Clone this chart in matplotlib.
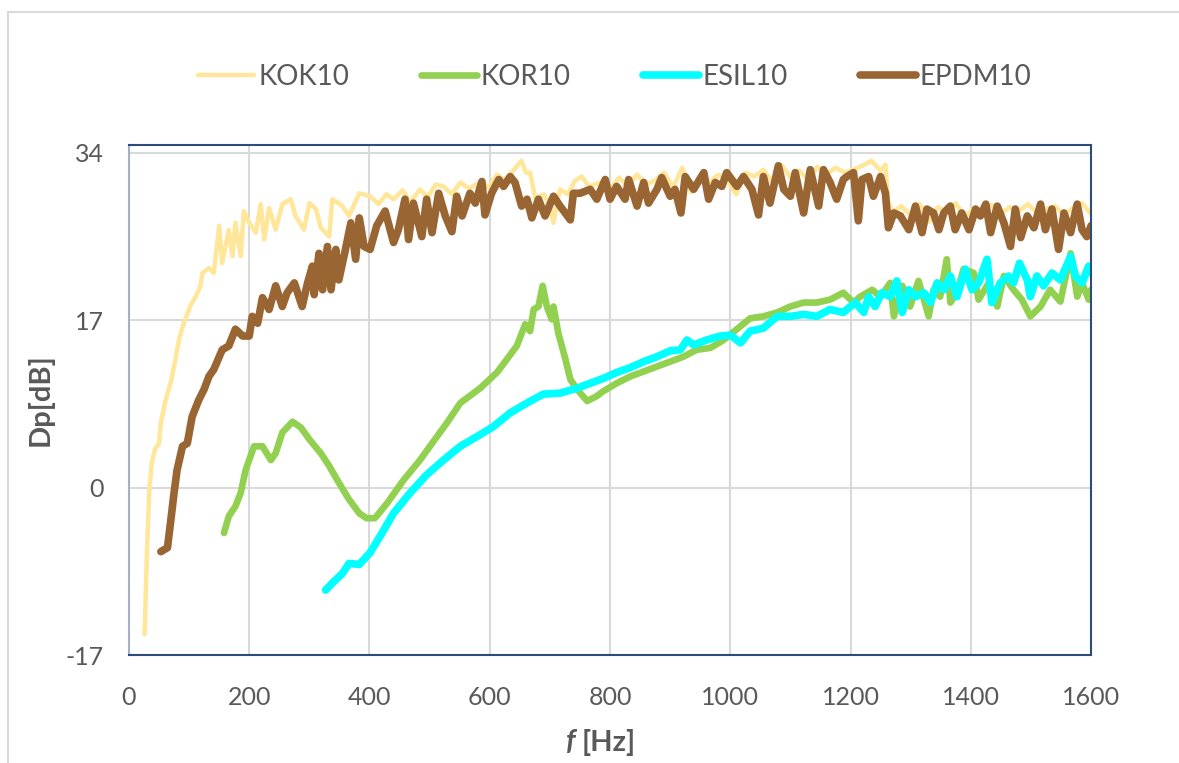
import matplotlib
matplotlib.use("Agg")
import matplotlib.pyplot as plt
from matplotlib.patches import Rectangle

plt.rcParams['font.family'] = ['Lato', 'DejaVu Sans']
plt.rcParams['axes.unicode_minus'] = False

# Data (f in Hz, Dp in dB)
kok_f = [26, 30, 34, 38, 43, 50, 53, 61, 69, 75, 83, 91, 103, 111, 119, 122, 133, 141, 150, 155,
         166, 172, 177, 186, 191, 200, 211, 219, 225, 233, 244, 255, 269, 277, 291, 300, 311, 319,
         333, 338, 355, 366, 383,
         401, 415, 428, 440, 455, 468, 484, 497, 510, 523, 537, 551, 565, 584, 598, 612, 625, 640,
         653, 660, 667, 672, 676, 690, 700, 706, 712, 717, 730, 742, 753, 765, 784,
         800, 815, 830, 845, 860, 875, 890, 905, 920, 935, 950, 965, 980, 995, 1010, 1025, 1040,
         1055, 1070, 1085, 1100, 1115, 1130, 1145, 1160, 1175, 1190, 1205, 1220, 1235, 1250, 1258,
         1263, 1270, 1285, 1300, 1315, 1330, 1345, 1360, 1375, 1390, 1405, 1420, 1435, 1450, 1465,
         1480, 1495, 1510, 1525, 1540, 1555, 1570, 1585, 1600]
kok_db = [-14.9, -6.3, 0.1, 2.5, 3.9, 4.5, 6.6, 8.9, 10.6, 12.3, 15.0, 16.7, 18.6, 19.4, 20.5, 21.8,
          22.3, 21.8, 26.6, 22.8, 26.2, 23.5, 26.9, 23.5, 28.1, 26.9, 25.9, 28.8, 25.2, 28.4, 26.2,
          28.8, 29.3, 27.6, 26.2, 28.9, 28.3, 26.4, 25.5, 29.3, 28.6, 27.6, 29.9,
          29.6, 28.8, 29.8, 29.3, 30.2, 29.0, 30.3, 29.5, 30.8, 30.6, 29.8, 31.0, 30.4, 31.0, 30.5,
          31.8, 31.2, 32.3, 33.2, 32.0, 32.0, 30.5, 29.3, 29.8, 28.5, 26.9, 29.0, 30.3, 29.8, 31.2,
          31.6, 30.6, 31.0,
          30.3, 31.5, 30.6, 31.8, 30.8, 31.2, 32.0, 30.5, 32.5, 30.0, 31.5, 31.0, 31.8, 31.2, 29.8,
          32.0, 31.6, 32.3, 31.0, 32.8, 31.5, 32.2, 31.2, 32.6, 31.8, 32.5, 32.0, 32.3, 32.7, 33.2,
          32.2, 32.8,
          29.0, 28.0, 28.6, 27.6, 28.8, 27.0, 28.5, 28.0, 28.9, 27.5, 28.4, 28.2, 28.7, 27.8, 28.5,
          28.1, 28.8, 27.9, 28.3, 28.6, 27.7, 28.4, 28.9, 27.8]

kor_f = [158, 166, 177, 186, 194, 208, 222, 236, 244, 255, 272, 286, 300, 319, 333, 349, 366, 383,
         395, 409, 429, 457, 484, 504, 529, 551, 584, 612, 628, 645, 659, 667, 673, 681, 688, 695,
         703, 706, 714, 726, 734, 745, 762,
         778, 789, 811, 834, 856, 878, 900, 922, 944, 967, 989, 1011, 1033, 1055, 1078, 1100, 1122,
         1144, 1166, 1188,
         1205, 1216, 1236, 1250, 1266, 1272, 1286, 1299, 1313, 1330, 1338, 1349, 1360, 1366, 1377,
         1388, 1405, 1413, 1430, 1444, 1455, 1471, 1485, 1499, 1516, 1532, 1549, 1566, 1577, 1585,
         1596, 1600]
kor_db = [-4.6, -2.9, -1.9, -0.5, 1.8, 4.2, 4.2, 2.8, 3.5, 5.6, 6.7, 6.1, 4.9, 3.5, 2.2, 0.5, -1.2,
          -2.6, -3.1, -3.1, -1.6, 0.8, 2.8, 4.5, 6.6, 8.6, 10.1, 11.7, 13.0, 14.4, 16.6, 15.9, 18.1,
          18.4, 20.5, 18.4, 17.1, 18.4, 15.7, 13.0, 11.0, 10.0, 8.8,
          9.3, 9.8, 10.6, 11.3, 11.8, 12.3, 12.8, 13.3, 14.0, 14.2, 15.0, 16.1, 17.2, 17.4, 17.8,
          18.4, 18.8, 18.8, 19.1, 19.8,
          18.8, 19.4, 20.1, 19.4, 20.8, 17.4, 20.5, 18.4, 21.0, 17.4, 20.1, 19.4, 23.2, 18.8, 19.8,
          22.2, 21.8, 19.1, 20.8, 18.4, 21.5, 20.1, 19.1, 17.4, 18.4, 20.1, 18.9, 23.8, 19.4, 20.8,
          19.1, 20.1]

esil_f = [327, 338, 355, 366, 383, 401, 418, 440, 468, 495, 523, 551, 579, 606, 634, 662, 689, 717,
          745,
          767, 789, 811, 834, 856, 878, 900, 917, 928, 939, 961, 983, 1000, 1017, 1033, 1055, 1078,
          1100, 1122, 1144, 1166, 1188,
          1208, 1222, 1230, 1241, 1252, 1266, 1277, 1286, 1297, 1308, 1322, 1333, 1344, 1355, 1366,
          1377, 1391, 1402, 1413, 1427, 1435, 1449, 1463, 1471, 1481, 1494, 1499, 1510, 1521, 1535,
          1549, 1566, 1574, 1585, 1596, 1600]
esil_db = [-10.4, -9.7, -8.7, -7.7, -7.8, -6.6, -4.9, -2.6, -0.5, 1.3, 2.8, 4.2, 5.2, 6.2, 7.6, 8.6,
           9.5, 9.6, 10.1,
           10.6, 11.1, 11.7, 12.2, 12.8, 13.3, 13.9, 14.0, 15.0, 14.5, 15.0, 15.4, 15.5, 14.7, 15.9,
           16.2, 17.4, 17.4, 17.6, 17.4, 18.1, 17.8,
           18.8, 17.8, 19.4, 18.4, 19.8, 19.4, 21.0, 17.8, 20.1, 19.4, 19.8, 18.8, 20.8, 20.1, 21.5,
           19.4, 22.2, 20.1, 20.8, 23.2, 18.8, 20.8, 21.5, 20.8, 22.8, 21.1, 19.4, 21.5, 20.5, 21.8,
           21.1, 23.5, 21.5, 20.8, 22.5, 21.8]

epdm_f = [53, 64, 69, 75, 80, 89, 97, 105, 116, 125, 133, 141, 150, 155, 166, 177, 189, 200, 205,
          214, 222, 233, 244, 255, 263, 275, 288, 297, 305, 308, 316, 322, 330, 336, 344, 349, 360,
          369, 377, 383, 391,
          401, 412, 426, 440, 448, 459, 465, 473, 487, 495, 504, 515, 526, 537, 545, 554, 567, 576,
          587, 592, 603, 615, 623, 634, 642, 653, 662, 670, 681, 692, 706, 717, 734, 739, 750,
          767, 778, 792, 800, 811, 825, 831, 845, 856, 864, 878, 886, 900, 908, 918, 925, 939, 956,
          964, 975, 986, 994, 1011, 1022, 1036, 1047, 1055, 1066, 1080, 1089, 1100, 1108, 1122,
          1133, 1147, 1155, 1166, 1177, 1188,
          1194, 1205, 1213, 1219, 1230, 1238, 1250, 1258, 1263, 1272, 1283, 1297, 1308, 1319, 1327,
          1338, 1347, 1355, 1366, 1374, 1385, 1397, 1408, 1416, 1425, 1433, 1444, 1455, 1466, 1474,
          1483, 1494, 1505, 1516, 1524, 1535, 1546, 1555, 1566, 1577, 1585, 1593, 1600]
epdm_db = [-6.5, -6.1, -3.6, -0.5, 1.8, 4.2, 4.5, 7.2, 8.9, 10.0, 11.3, 12.0, 13.3, 14.0, 14.4, 16.1,
           15.4, 15.4, 17.4, 16.7, 19.3, 18.1, 20.5, 18.4, 19.8, 20.8, 18.4, 20.8, 22.5, 19.6, 23.8,
           20.1, 24.5, 20.1, 24.2, 21.1, 24.2, 26.9, 23.2, 27.4, 24.5,
           24.2, 26.6, 28.1, 24.9, 26.2, 29.3, 25.2, 28.9, 25.5, 29.3, 25.9, 29.9, 27.6, 26.0, 29.6,
           27.6, 29.9, 28.9, 31.1, 27.7, 29.9, 31.3, 30.6, 31.6, 31.0, 28.6, 29.3, 27.4, 29.3, 27.6,
           29.6, 28.6, 27.2, 29.9, 29.9,
           30.3, 29.3, 31.3, 29.3, 30.6, 29.3, 31.3, 28.6, 31.0, 28.9, 30.3, 31.5, 29.6, 30.3, 27.9,
           31.6, 30.3, 32.0, 29.3, 31.0, 30.6, 32.0, 30.6, 31.6, 30.3, 27.7, 31.6, 28.9, 32.7, 30.3,
           29.6, 32.0, 27.9, 32.3, 28.6, 32.3, 31.0, 29.3, 31.3,
           31.6, 32.0, 27.1, 31.3, 31.6, 29.6, 31.6, 29.9, 26.4, 27.9, 27.6, 26.2, 28.6, 25.9, 28.3,
           27.9, 26.2, 27.9, 28.6, 26.2, 27.9, 26.2, 28.3, 27.6, 28.8, 25.9, 28.6, 26.9, 24.5, 28.3,
           25.4, 27.6, 26.4, 28.8, 26.2, 28.3, 24.2, 27.9, 25.9, 28.8, 26.2, 25.5, 26.6]

x_ticks = [0, 200, 400, 600, 800, 1000, 1200, 1400, 1600]
y_ticks = [-17, 0, 17, 34]

fig = plt.figure(figsize=(11.79, 7.63), dpi=100)
ax = fig.add_axes([0.1094, 0.1415, 0.8160, 0.6684])

style = dict(solid_joinstyle='round', solid_capstyle='round')
ax.plot(kok_f, kok_db, color='#FFE699', lw=3.2, label='KOK10', **style)
ax.plot(kor_f, kor_db, color='#92D050', lw=4.8, label='KOR10', **style)
ax.plot(esil_f, esil_db, color='#00FFFF', lw=5.5, label='ESIL10', **style)
ax.plot(epdm_f, epdm_db, color='#996633', lw=5.5, label='EPDM10', **style)

ax.set_xlim(0, 1600)
ax.set_ylim(-17, 34.8)
ax.set_xticks(x_ticks)
ax.set_yticks(y_ticks)
ax.grid(True, color='#D9D9D9', lw=1.5)
ax.set_axisbelow(True)
ax.tick_params(length=0, labelsize=18, labelcolor='#595959')
ax.tick_params(axis='x', pad=22)
ax.tick_params(axis='y', pad=18)
for side in ['top', 'bottom', 'right']:
    ax.spines[side].set_color('#2F4B7C')
    ax.spines[side].set_linewidth(1.5)
ax.spines['left'].set_color('#A6B0C3')
ax.spines['left'].set_linewidth(1.5)

fig.text(40 / 1179, 1 - 400 / 763, 'Dp[dB]', rotation=90, ha='center', va='center',
         fontsize=21, fontweight='bold', color='#595959')
fig.text(576 / 1179, 1 - 742 / 763, 'f', ha='right', va='center', fontsize=21,
         fontweight='bold', style='italic', color='#595959')
fig.text(582 / 1179, 1 - 742 / 763, '[Hz]', ha='left', va='center', fontsize=21,
         fontweight='bold', color='#595959')

ax.legend(loc='center', bbox_to_anchor=(615 / 1179, 1 - 77 / 763), bbox_transform=fig.transFigure,
          ncol=4, frameon=False, fontsize=20, labelcolor='#595959', handlelength=2.0,
          handletextpad=0.15, columnspacing=2.6)

fig.patches.append(Rectangle((8 / 1179, -0.1), 1.2, 1.1 - 12 / 763, transform=fig.transFigure,
                             fill=False, ec='#D9D9D9', lw=1.5))

fig.savefig('out.png', dpi=100)
